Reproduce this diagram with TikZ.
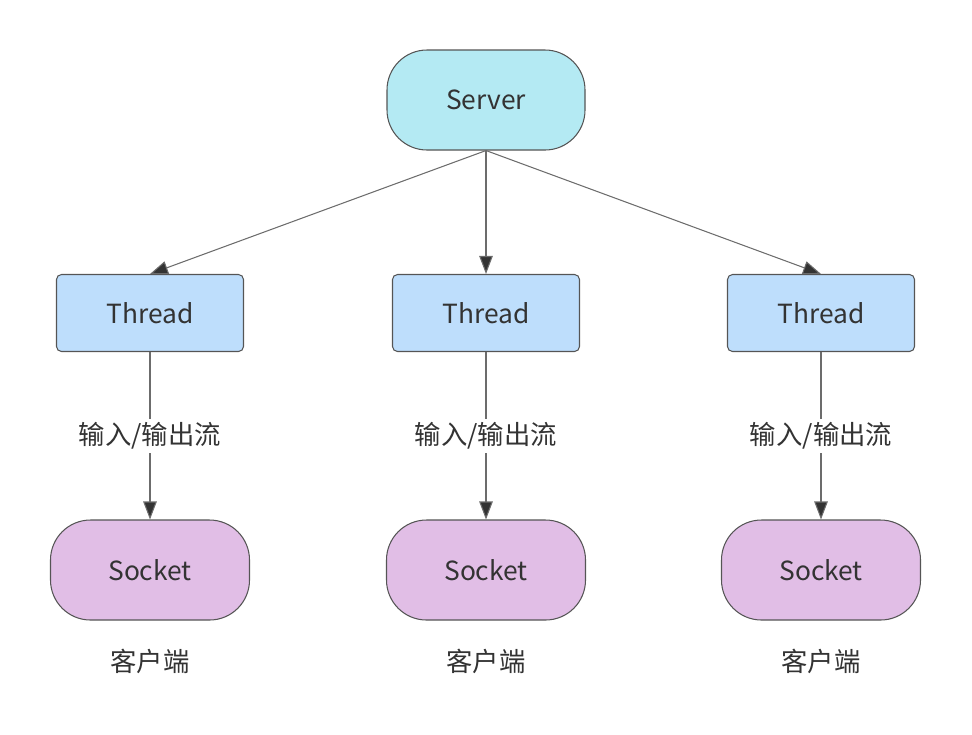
\documentclass[tikz,border=0pt]{standalone}
\usepackage{fontspec}
\setmainfont{Noto Sans CJK SC}
\usetikzlibrary{arrows.meta}
\definecolor{serverfill}{HTML}{B4EAF3}
\definecolor{threadfill}{HTML}{BEDEFC}
\definecolor{socketfill}{HTML}{E1BEE6}
\definecolor{edgegray}{HTML}{555555}
\definecolor{textgray}{HTML}{333333}
\tikzset{
  server/.style   = {rectangle, rounded corners=0.8cm, draw=edgegray, fill=serverfill,
                     minimum width=3.96cm, minimum height=2cm},
  thread/.style   = {rectangle, rounded corners=0.1cm, draw=edgegray, fill=threadfill,
                     minimum width=3.74cm, minimum height=1.54cm},
  socket/.style   = {rectangle, rounded corners=0.8cm, draw=edgegray, fill=socketfill,
                     minimum width=3.98cm, minimum height=2cm},
  text-node/.style = {fill=white, inner sep=2pt},
}

\begin{document}
\begin{tikzpicture}
  [
    line width              = 0.6pt,
    link/.style             = {draw=gray!85!black, -{Triangle[length=0.36cm, width=0.27cm, fill=textgray]}},
    every node/.style       = {font=\fontsize{15}{18}\selectfont, text=textgray}
  ]
  \useasboundingbox (0,0) rectangle (19.44,-14.68);

  \node [server] (server) at (9.72,-2) {Server};

  \node [thread] (thread1) at (3.00,-6.26) {Thread};
  \node [thread] (thread2) at (9.72,-6.26) {Thread};
  \node [thread] (thread3) at (16.42,-6.26) {Thread};

  \node [socket] (socket1) at (3.00,-11.40) {Socket};
  \node [socket] (socket2) at (9.72,-11.40) {Socket};
  \node [socket] (socket3) at (16.42,-11.40) {Socket};

  \node (client1) at (3.00,-13.22) {客户端};
  \node (client2) at (9.72,-13.22) {客户端};
  \node (client3) at (16.42,-13.22) {客户端};

  \draw [link] (server.south) -- (thread1.north);
  \draw [link] (server.south) -- (thread2.north);
  \draw [link] (server.south) -- (thread3.north);

  \draw [link] (thread1) -- node [text-node] {输入/输出流} (socket1);
  \draw [link] (thread2) -- node [text-node] {输入/输出流} (socket2);
  \draw [link] (thread3) -- node [text-node] {输入/输出流} (socket3);
\end{tikzpicture}
\end{document}
